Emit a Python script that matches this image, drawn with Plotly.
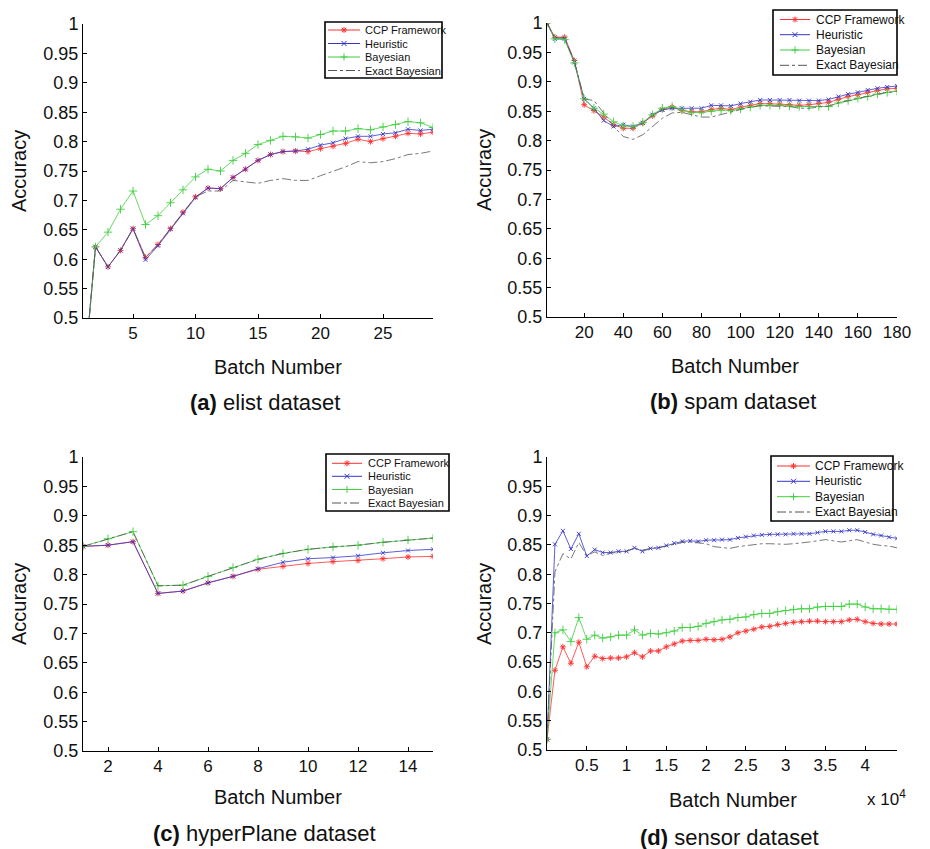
import plotly.graph_objects as go

W, H = 930, 849

# ---------------- data ----------------
series_names = ["CCP Framework", "Heuristic", "Bayesian", "Exact Bayesian"]

# (a) elist dataset
elist_batch = [1, 2, 3, 4, 5, 6, 7, 8, 9, 10, 11, 12, 13, 14, 15, 16, 17, 18, 19, 20,
               21, 22, 23, 24, 25, 26, 27, 28, 29]
elist_ccp = [0.38, 0.621, 0.587, 0.615, 0.652, 0.603, 0.625, 0.652, 0.680, 0.706, 0.721, 0.720,
             0.739, 0.753, 0.768, 0.778, 0.783, 0.784, 0.783, 0.788, 0.792, 0.797, 0.804, 0.800,
             0.805, 0.809, 0.814, 0.813, 0.816]
elist_heur = [0.38, 0.621, 0.587, 0.615, 0.652, 0.599, 0.623, 0.651, 0.678, 0.705, 0.721, 0.720,
              0.739, 0.753, 0.768, 0.778, 0.783, 0.784, 0.787, 0.794, 0.798, 0.805, 0.809, 0.809,
              0.813, 0.815, 0.821, 0.819, 0.821]
elist_bayes = [0.38, 0.621, 0.646, 0.685, 0.716, 0.659, 0.674, 0.696, 0.718, 0.740, 0.753, 0.750,
               0.768, 0.780, 0.795, 0.802, 0.809, 0.808, 0.806, 0.812, 0.818, 0.818, 0.822, 0.820,
               0.825, 0.829, 0.834, 0.832, 0.824]
elist_exact = [0.38, 0.621, 0.587, 0.615, 0.652, 0.603, 0.625, 0.652, 0.680, 0.706, 0.716, 0.716,
               0.734, 0.732, 0.729, 0.734, 0.737, 0.734, 0.734, 0.742, 0.749, 0.757, 0.766, 0.764,
               0.766, 0.771, 0.778, 0.780, 0.784]

# (b) spam dataset
spam_batch = [1, 5, 10, 15, 20, 25, 30, 35, 40, 45, 50, 55, 60, 65, 70, 75, 80, 85, 90, 95,
              100, 105, 110, 115, 120, 125, 130, 135, 140, 145, 150, 155, 160, 165, 170, 175, 180]
spam_ccp = [1.0, 0.976, 0.976, 0.936, 0.861, 0.851, 0.840, 0.827, 0.821, 0.821, 0.830, 0.842,
            0.853, 0.857, 0.851, 0.849, 0.849, 0.853, 0.855, 0.853, 0.857, 0.860, 0.863, 0.863,
            0.862, 0.861, 0.860, 0.861, 0.863, 0.865, 0.870, 0.875, 0.878, 0.882, 0.885, 0.888,
            0.889]
spam_heur = [1.0, 0.973, 0.973, 0.933, 0.871, 0.855, 0.834, 0.824, 0.827, 0.824, 0.830, 0.844,
             0.852, 0.855, 0.855, 0.855, 0.855, 0.860, 0.860, 0.859, 0.863, 0.866, 0.869, 0.869,
             0.869, 0.869, 0.868, 0.868, 0.868, 0.870, 0.875, 0.879, 0.882, 0.886, 0.889, 0.891,
             0.893]
spam_bayes = [1.0, 0.973, 0.972, 0.932, 0.871, 0.855, 0.845, 0.832, 0.825, 0.824, 0.831, 0.844,
              0.855, 0.858, 0.852, 0.848, 0.848, 0.850, 0.852, 0.851, 0.854, 0.857, 0.860, 0.860,
              0.860, 0.859, 0.858, 0.858, 0.858, 0.858, 0.864, 0.868, 0.872, 0.875, 0.879, 0.882,
              0.884]
spam_exact = [1.0, 0.975, 0.975, 0.935, 0.871, 0.868, 0.847, 0.824, 0.807, 0.802, 0.810, 0.824,
              0.838, 0.847, 0.848, 0.844, 0.840, 0.840, 0.844, 0.848, 0.852, 0.857, 0.859, 0.859,
              0.859, 0.858, 0.855, 0.855, 0.857, 0.859, 0.864, 0.868, 0.872, 0.875, 0.879, 0.882,
              0.884]

# (c) hyperPlane dataset
hyper_batch = [1, 2, 3, 4, 5, 6, 7, 8, 9, 10, 11, 12, 13, 14, 15]
hyper_ccp = [0.848, 0.850, 0.856, 0.768, 0.772, 0.786, 0.797, 0.809, 0.814, 0.819, 0.822, 0.824,
             0.827, 0.830, 0.831]
hyper_heur = [0.848, 0.850, 0.856, 0.768, 0.772, 0.786, 0.797, 0.810, 0.821, 0.827, 0.829, 0.832,
              0.837, 0.841, 0.843]
hyper_bayes = [0.848, 0.861, 0.873, 0.781, 0.782, 0.797, 0.812, 0.826, 0.836, 0.843, 0.847, 0.850,
               0.855, 0.859, 0.862]
hyper_exact = [0.848, 0.861, 0.873, 0.781, 0.782, 0.797, 0.812, 0.826, 0.836, 0.843, 0.847, 0.850,
               0.855, 0.859, 0.862]

# (d) sensor dataset
sensor_batch = [0, 1000, 2000, 3000, 4000, 5000, 6000, 7000, 8000, 9000, 10000, 11000, 12000,
                13000, 14000, 15000, 16000, 17000, 18000, 19000, 20000, 21000, 22000, 23000,
                24000, 25000, 26000, 27000, 28000, 29000, 30000, 31000, 32000, 33000, 34000,
                35000, 36000, 37000, 38000, 39000, 40000, 41000, 42000, 43000, 44000]
sensor_ccp = [0.518, 0.636, 0.676, 0.648, 0.684, 0.642, 0.660, 0.656, 0.657, 0.657, 0.659, 0.666,
              0.659, 0.669, 0.669, 0.676, 0.681, 0.686, 0.687, 0.687, 0.689, 0.688, 0.689, 0.693,
              0.700, 0.703, 0.706, 0.710, 0.711, 0.714, 0.716, 0.718, 0.719, 0.720, 0.720, 0.719,
              0.719, 0.719, 0.722, 0.723, 0.719, 0.716, 0.715, 0.715, 0.715]
sensor_heur = [0.518, 0.851, 0.874, 0.843, 0.869, 0.831, 0.842, 0.837, 0.837, 0.839, 0.839, 0.845,
               0.839, 0.844, 0.845, 0.849, 0.853, 0.856, 0.857, 0.856, 0.858, 0.858, 0.859, 0.859,
               0.862, 0.864, 0.866, 0.867, 0.868, 0.868, 0.868, 0.869, 0.869, 0.869, 0.871, 0.873,
               0.873, 0.873, 0.875, 0.875, 0.872, 0.868, 0.866, 0.863, 0.861]
sensor_bayes = [0.518, 0.700, 0.705, 0.685, 0.726, 0.689, 0.696, 0.691, 0.693, 0.696, 0.696, 0.705,
                0.696, 0.699, 0.698, 0.700, 0.703, 0.709, 0.709, 0.711, 0.716, 0.719, 0.722, 0.723,
                0.726, 0.727, 0.731, 0.733, 0.733, 0.736, 0.738, 0.740, 0.741, 0.741, 0.744, 0.745,
                0.745, 0.745, 0.749, 0.749, 0.744, 0.741, 0.741, 0.740, 0.740]
sensor_exact = [0.518, 0.804, 0.835, 0.826, 0.854, 0.832, 0.838, 0.832, 0.836, 0.838, 0.839, 0.844,
                0.841, 0.844, 0.845, 0.848, 0.851, 0.854, 0.855, 0.853, 0.852, 0.847, 0.845, 0.844,
                0.847, 0.849, 0.851, 0.852, 0.852, 0.851, 0.851, 0.852, 0.853, 0.855, 0.857, 0.859,
                0.857, 0.855, 0.857, 0.859, 0.855, 0.851, 0.849, 0.848, 0.845]

y_ticks = [0.5, 0.55, 0.6, 0.65, 0.7, 0.75, 0.8, 0.85, 0.9, 0.95, 1.0]
y_ticklabels = ["0.5", "0.55", "0.6", "0.65", "0.7", "0.75", "0.8", "0.85", "0.9", "0.95", "1"]

elist_xticks = [5, 10, 15, 20, 25]
spam_xticks = [20, 40, 60, 80, 100, 120, 140, 160, 180]
hyper_xticks = [2, 4, 6, 8, 10, 12, 14]
sensor_xticks = [5000, 10000, 15000, 20000, 25000, 30000, 35000, 40000]
sensor_xticklabels = ["0.5", "1", "1.5", "2", "2.5", "3", "3.5", "4"]

captions = ["<b>(a)</b> elist dataset", "<b>(b)</b> spam dataset",
            "<b>(c)</b> hyperPlane dataset", "<b>(d)</b> sensor dataset"]

# ---------------- styling ----------------
FONT = "Liberation Sans, Arial, Helvetica, sans-serif"
styles = [
    dict(color="#ff3030", symbol="asterisk-open", size=5, dash="solid", key="ast"),
    dict(color="#3535cc", symbol="x-thin-open", size=4, dash="solid", key="x"),
    dict(color="#3fcf3f", symbol="cross-thin-open", size=6, dash="solid", key="plus"),
    dict(color="#555555", symbol=None, size=0, dash="dashdot", key=None),
]


def px_x(p):
    return p / W


def px_y(p):
    return 1 - p / H


panels = [
    dict(x=elist_batch, ys=[elist_ccp, elist_heur, elist_bayes, elist_exact],
         xdom=(83, 433), ydom=(24, 318), xrange=[1, 29], xticks=elist_xticks, xtext=None,
         box=(325, 22, 442, 78), rows=(30, 43.5, 57, 70.5), sample=(328, 360), txt=362.5, lfs=11,
         xlabel=(278, 367), cap=(265, 402), ylabel=(19, 171)),
    dict(x=spam_batch, ys=[spam_ccp, spam_heur, spam_bayes, spam_exact],
         xdom=(547, 897), ydom=(23, 317), xrange=[1, 180], xticks=spam_xticks, xtext=None,
         box=(773, 10, 897, 75), rows=(19.5, 34.7, 50, 65.3), sample=(780, 810), txt=814, lfs=12,
         xlabel=(735, 366), cap=(733, 401), ylabel=(484, 170)),
    dict(x=hyper_batch, ys=[hyper_ccp, hyper_heur, hyper_bayes, hyper_exact],
         xdom=(83, 433), ydom=(457, 751), xrange=[1, 15], xticks=hyper_xticks, xtext=None,
         box=(326, 454, 449, 511), rows=(463.3, 476.3, 489.5, 503), sample=(332, 362), txt=365.5, lfs=11,
         xlabel=(278, 797), cap=(264, 833), ylabel=(19, 604)),
    dict(x=sensor_batch, ys=[sensor_ccp, sensor_heur, sensor_bayes, sensor_exact],
         xdom=(547, 897), ydom=(457, 750), xrange=[0, 44000], xticks=sensor_xticks,
         xtext=sensor_xticklabels,
         box=(771, 456, 893, 521), rows=(466, 481.3, 496.7, 512), sample=(777, 810), txt=812.5, lfs=12,
         xlabel=(733, 800), cap=(729, 837), ylabel=(484, 604)),
]

fig = go.Figure()
annotations = []
shapes = []
layout = dict(
    width=W, height=H, margin=dict(l=0, r=0, t=0, b=0),
    paper_bgcolor="white", plot_bgcolor="white",
    font=dict(family=FONT, color="black"),
    showlegend=False,
)


def seg(x0, y0, x1, y1, color, width=1, dash="solid"):
    return dict(type="line", xref="paper", yref="paper",
                x0=px_x(x0), y0=px_y(y0), x1=px_x(x1), y1=px_y(y1),
                line=dict(color=color, width=width, dash=dash), layer="above")


def key_marker(kind, cx, cy, color):
    r = 3
    out = []
    if kind == "ast":
        out += [seg(cx - r, cy, cx + r, cy, color), seg(cx, cy - r, cx, cy + r, color),
                seg(cx - 2.2, cy - 2.2, cx + 2.2, cy + 2.2, color),
                seg(cx - 2.2, cy + 2.2, cx + 2.2, cy - 2.2, color)]
    elif kind == "x":
        out += [seg(cx - 2.5, cy - 2.5, cx + 2.5, cy + 2.5, color),
                seg(cx - 2.5, cy + 2.5, cx + 2.5, cy - 2.5, color)]
    elif kind == "plus":
        out += [seg(cx - 3.5, cy, cx + 3.5, cy, color), seg(cx, cy - 3.5, cx, cy + 3.5, color)]
    return out


for i, p in enumerate(panels):
    n = i + 1
    xa = "x" if n == 1 else f"x{n}"
    ya = "y" if n == 1 else f"y{n}"
    for s, (name, yv) in enumerate(zip(series_names, p["ys"])):
        st = styles[s]
        mode = "lines+markers" if st["symbol"] else "lines"
        tr = dict(x=p["x"], y=yv, name=name, mode=mode, xaxis=xa, yaxis=ya,
                  legendgroup=name, showlegend=False,
                  line=dict(color=st["color"], width=0.8, dash=st["dash"]),
                  cliponaxis=True)
        if st["symbol"]:
            tr["marker"] = dict(symbol=st["symbol"], size=st["size"], color=st["color"],
                                line=dict(color=st["color"], width=0.9))
        fig.add_trace(go.Scatter(**tr))

    xkey = "xaxis" if n == 1 else f"xaxis{n}"
    ykey = "yaxis" if n == 1 else f"yaxis{n}"
    layout[xkey] = dict(
        domain=[px_x(p["xdom"][0]), px_x(p["xdom"][1])], anchor=ya, range=p["xrange"],
        tickmode="array", tickvals=p["xticks"],
        ticktext=p["xtext"] if p["xtext"] else [str(v) for v in p["xticks"]],
        ticks="inside", ticklen=4, tickcolor="black", tickwidth=1,
        showline=True, linecolor="black", linewidth=1, mirror=False,
        showgrid=False, zeroline=False, automargin=False,
        tickfont=dict(size=17, family=FONT, color="#111"),
    )
    layout[ykey] = dict(
        domain=[px_y(p["ydom"][1]), px_y(p["ydom"][0])], anchor=xa, range=[0.5, 1.0],
        tickmode="array", tickvals=y_ticks, ticktext=y_ticklabels,
        ticks="inside", ticklen=4, tickcolor="black", tickwidth=1,
        showline=True, linecolor="black", linewidth=1, mirror=False,
        showgrid=False, zeroline=False, automargin=False,
        tickfont=dict(size=18, family=FONT, color="#111"),
    )

    # legend box (drawn in paper space)
    bx0, by0, bx1, by1 = p["box"]
    shapes.append(dict(type="rect", xref="paper", yref="paper",
                       x0=px_x(bx0), y0=px_y(by1), x1=px_x(bx1), y1=px_y(by0),
                       fillcolor="white", line=dict(color="black", width=1.6), layer="above"))
    sx0, sx1 = p["sample"]
    for s, name in enumerate(series_names):
        st = styles[s]
        ry = p["rows"][s]
        shapes.append(seg(sx0, ry, sx1, ry, st["color"], width=1, dash=st["dash"]))
        if st["key"]:
            shapes += key_marker(st["key"], (sx0 + sx1) / 2, ry, st["color"])
        annotations.append(dict(text=name, x=px_x(p["txt"]), y=px_y(ry),
                                xref="paper", yref="paper", showarrow=False,
                                xanchor="left", yanchor="middle",
                                font=dict(size=p["lfs"], family=FONT, color="#111")))

    annotations.append(dict(text="Batch Number", x=px_x(p["xlabel"][0]), y=px_y(p["xlabel"][1]),
                            xref="paper", yref="paper", showarrow=False,
                            xanchor="center", yanchor="middle",
                            font=dict(size=20, family=FONT, color="#111")))
    annotations.append(dict(text=captions[i], x=px_x(p["cap"][0]), y=px_y(p["cap"][1]),
                            xref="paper", yref="paper", showarrow=False,
                            xanchor="center", yanchor="middle",
                            font=dict(size=22, family=FONT, color="#111")))
    annotations.append(dict(text="Accuracy", x=px_x(p["ylabel"][0]), y=px_y(p["ylabel"][1]),
                            xref="paper", yref="paper", showarrow=False, textangle=-90,
                            xanchor="center", yanchor="middle",
                            font=dict(size=20, family=FONT, color="#111")))

annotations.append(dict(text="x 10<sup>4</sup>", x=px_x(865), y=px_y(798),
                        xref="paper", yref="paper", showarrow=False,
                        xanchor="left", yanchor="middle",
                        font=dict(size=17, family=FONT, color="#111")))

layout["annotations"] = annotations
layout["shapes"] = shapes
fig.update_layout(**layout)
fig.write_html("out.html", config={"displayModeBar": False},
               post_script="document.body.style.margin='0';document.body.style.padding='0';")
